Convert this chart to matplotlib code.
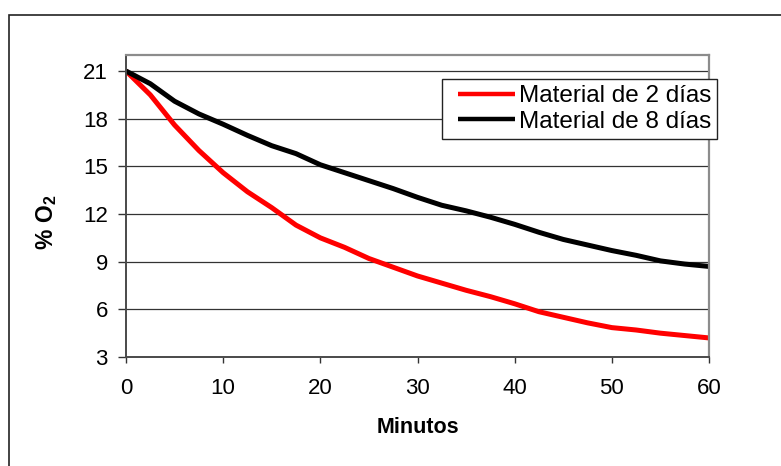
#!/usr/bin/env python3
"""Oxygen depletion (% O2) over one hour for 2-day and 8-day material."""
import matplotlib
matplotlib.use("Agg")
import matplotlib.pyplot as plt
from matplotlib.legend_handler import HandlerLine2D
from matplotlib.patches import Rectangle

plt.rcParams["font.family"] = ["Liberation Sans", "DejaVu Sans"]
plt.rcParams["mathtext.fontset"] = "custom"
plt.rcParams["mathtext.rm"] = "Liberation Sans"
plt.rcParams["mathtext.bf"] = "Liberation Sans:bold"

MINUTES = [0, 2.5, 5, 7.5, 10, 12.5, 15, 17.5, 20, 22.5, 25, 27.5, 30,
           32.5, 35, 37.5, 40, 42.5, 45, 47.5, 50, 52.5, 55, 57.5, 60]
O2_2_DIAS = [21.0, 19.5, 17.6, 16.0, 14.6, 13.4, 12.4, 11.3, 10.5, 9.9, 9.2,
             8.65, 8.1, 7.65, 7.2, 6.8, 6.35, 5.85, 5.5, 5.15, 4.85, 4.7,
             4.5, 4.35, 4.2]
O2_8_DIAS = [21.0, 20.2, 19.1, 18.3, 17.65, 16.95, 16.3, 15.8, 15.1, 14.6,
             14.1, 13.6, 13.05, 12.55, 12.2, 11.8, 11.35, 10.85, 10.4, 10.05,
             9.7, 9.4, 9.05, 8.85, 8.7]
LABELS = ["Material de 2 días", "Material de 8 días"]
X_TICKS = [0, 10, 20, 30, 40, 50, 60]
Y_TICKS = [3, 6, 9, 12, 15, 18, 21]

W, H = 781, 466
fig = plt.figure(figsize=(W / 100, H / 100), dpi=100)

# outer chart border (left and top edges only are inside the image)
fig.patches.append(Rectangle((9 / W, -0.1), 1.0, 1 - 15 / H + 0.1,
                             transform=fig.transFigure, fill=False,
                             edgecolor="#222222", linewidth=1.2))

ax = fig.add_axes([126 / W, 109 / H, 583 / W, 302.5 / H])
ax.plot(MINUTES, O2_2_DIAS, color="#ff0000", linewidth=3.6,
        solid_capstyle="butt", label=LABELS[0])
ax.plot(MINUTES, O2_8_DIAS, color="#000000", linewidth=3.6,
        solid_capstyle="butt", label=LABELS[1])

ax.set_xlim(0, 60)
ax.set_ylim(3, 22.04)
ax.set_xticks(X_TICKS)
ax.set_yticks(Y_TICKS)
for y in Y_TICKS[1:]:
    ax.axhline(y, color="#333333", linewidth=0.9, zorder=0)

for side in ("top", "right"):
    ax.spines[side].set_color("#8c8c8c")
    ax.spines[side].set_linewidth(1.6)
for side in ("left", "bottom"):
    ax.spines[side].set_color("#4a4a4a")
    ax.spines[side].set_linewidth(1.4)

ax.tick_params(axis="y", direction="out", length=6, width=1, color="#333333",
               labelsize=16, pad=7)
ax.tick_params(axis="x", direction="out", length=4, width=1, color="#333333",
               labelsize=16, pad=11)

ax.set_xlabel("Minutos", fontsize=15.5, fontweight="bold", labelpad=13)
fig.text(47 / W, 1 - 222 / H, r"$\mathbf{\%\ O_2}$", rotation=90,
         fontsize=16.5, ha="center", va="center")

# xpad pushes the legend line samples right, away from the frame edge
leg = ax.legend(loc="upper left", bbox_to_anchor=(442 / W, 1 - 79 / H),
                bbox_transform=fig.transFigure, fontsize=17.5, frameon=True,
                fancybox=False, edgecolor="#222222", framealpha=1,
                borderpad=0.25, labelspacing=0.15, handlelength=2.75,
                handletextpad=0.15, borderaxespad=0,
                handler_map={plt.Line2D: HandlerLine2D(xpad=0.4)})
leg.get_frame().set_linewidth(1.0)
for line in leg.get_lines():
    line.set_linewidth(3.2)

fig.savefig("out.png", dpi=100)
